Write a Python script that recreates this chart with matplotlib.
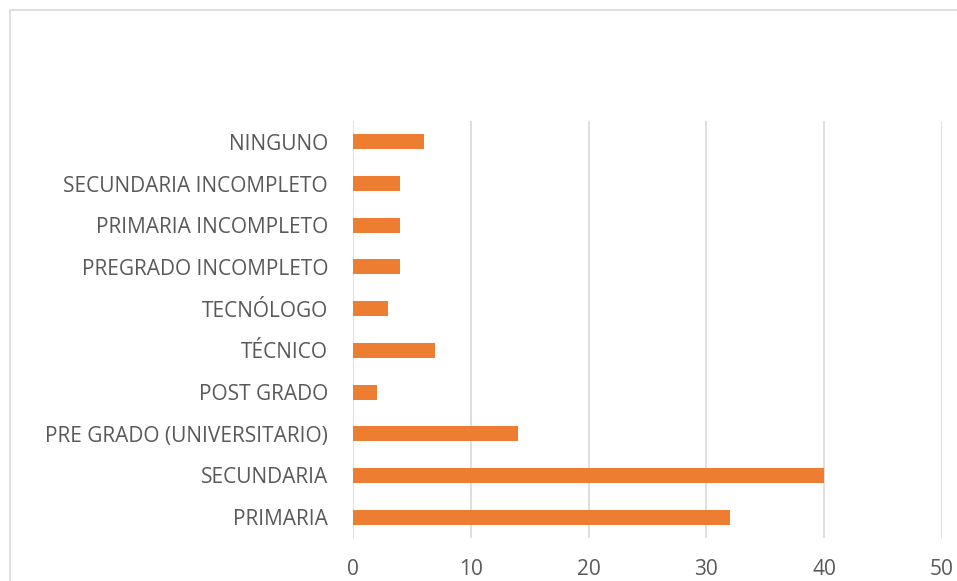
import matplotlib
matplotlib.use("Agg")
import matplotlib.pyplot as plt
from matplotlib.patches import Rectangle

categories = ["PRIMARIA", "SECUNDARIA", "PRE GRADO (UNIVERSITARIO)", "POST GRADO",
              "TÉCNICO", "TECNÓLOGO", "PREGRADO INCOMPLETO", "PRIMARIA INCOMPLETO",
              "SECUNDARIA INCOMPLETO", "NINGUNO"]
values = [32, 40, 14, 2, 7, 3, 4, 4, 4, 6]
xticks = [0, 10, 20, 30, 40, 50]
title = "Nivel de escolaridad del Padre"

plt.rcParams['font.family'] = ['Open Sans', 'DejaVu Sans']

fig = plt.figure(figsize=(9.57, 5.81), dpi=100)
fig.patches.append(Rectangle((10/957, -0.2), 1.2, 1 - 10/581 + 0.2, transform=fig.transFigure,
                             fill=False, edgecolor="#d9d9d9", linewidth=1.2))
fig.text(375/957, 1 - 0.5/581, title, fontsize=15, color="#595959", va="baseline", ha="right")

ax = fig.add_axes([353/957, 1 - 538/581, (942 - 353)/957, (538 - 121)/581])
ax.barh(range(len(categories)), values, height=0.36, color="#ED7D31", zorder=3)
ax.set_ylim(-0.5, len(categories) - 0.5)
ax.set_xlim(0, 50)
ax.set_xticks(xticks)
ax.set_yticks(range(len(categories)))
ax.set_yticklabels(categories)
ax.grid(axis="x", color="#d9d9d9", linewidth=1.2, zorder=0)
for s in ax.spines.values():
    s.set_visible(False)
ax.tick_params(axis="both", length=0, labelsize=15, colors="#595959")
ax.tick_params(axis="x", pad=15)
ax.tick_params(axis="y", pad=18)

fig.savefig("out.png", dpi=100)
